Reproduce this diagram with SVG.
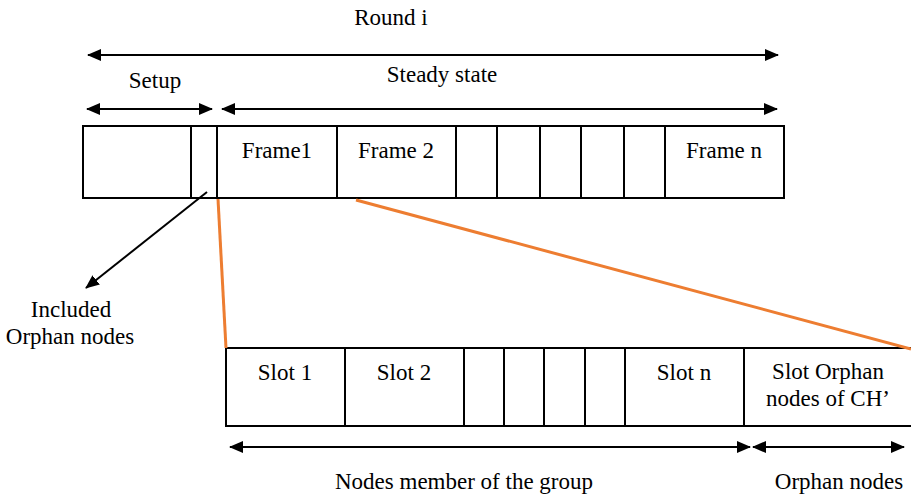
<svg xmlns="http://www.w3.org/2000/svg" width="911" height="497" viewBox="0 0 911 497">
<style>
text{font-family:"Liberation Serif","Times New Roman",serif;font-size:23px;fill:#000;text-anchor:middle}
.box{fill:#fff;stroke:#000;stroke-width:2}
.div{stroke:#000;stroke-width:2}
.arr{stroke:#000;stroke-width:2;fill:none}
.or{stroke:#ED7D31;stroke-width:3;fill:none}
</style>
<defs>
<marker id="ah" markerUnits="userSpaceOnUse" markerWidth="14" markerHeight="12" refX="13" refY="6" orient="auto-start-reverse" viewBox="0 0 14 12">
<path d="M0,0 L14,6 L0,12 z" fill="#000"/>
</marker>
</defs>
<g id="labels-top">
<text x="391" y="25">Round i</text>
<text x="155" y="88">Setup</text>
<text x="442" y="82">Steady state</text>
</g>
<g id="frame-bar">
<rect class="box" x="83" y="126" width="701" height="72"/>
<line class="div" x1="191" y1="126" x2="191" y2="198"/>
<line class="div" x1="217" y1="126" x2="217" y2="198"/>
<line class="div" x1="337" y1="126" x2="337" y2="198"/>
<line class="div" x1="456" y1="126" x2="456" y2="198"/>
<line class="div" x1="497" y1="126" x2="497" y2="198"/>
<line class="div" x1="540" y1="126" x2="540" y2="198"/>
<line class="div" x1="581" y1="126" x2="581" y2="198"/>
<line class="div" x1="624" y1="126" x2="624" y2="198"/>
<line class="div" x1="665" y1="126" x2="665" y2="198"/>
<text x="277" y="158">Frame1</text>
<text x="396" y="158">Frame 2</text>
<text x="724" y="158">Frame n</text>
</g>
<g id="slot-bar">
<rect class="box" x="226" y="348" width="690" height="78"/>
<line class="div" x1="345" y1="348" x2="345" y2="426"/>
<line class="div" x1="464" y1="348" x2="464" y2="426"/>
<line class="div" x1="504" y1="348" x2="504" y2="426"/>
<line class="div" x1="544" y1="348" x2="544" y2="426"/>
<line class="div" x1="585" y1="348" x2="585" y2="426"/>
<line class="div" x1="625" y1="348" x2="625" y2="426"/>
<line class="div" x1="744" y1="348" x2="744" y2="426"/>
<text x="285" y="380">Slot 1</text>
<text x="404" y="380">Slot 2</text>
<text x="684" y="380">Slot n</text>
<text x="828" y="379">Slot Orphan</text>
<text x="828" y="406">nodes of CH’</text>
</g>
<g id="included-label">
<text x="71" y="317">Included</text>
<text x="70" y="344">Orphan nodes</text>
</g>
<g id="labels-bottom">
<text x="464" y="489">Nodes member of the group</text>
<text x="839" y="489">Orphan nodes</text>
</g>
<g id="connectors">
<line class="arr" x1="88" y1="55" x2="778" y2="55" marker-start="url(#ah)" marker-end="url(#ah)"/>
<line class="arr" x1="87" y1="109" x2="212" y2="109" marker-start="url(#ah)" marker-end="url(#ah)"/>
<line class="arr" x1="222" y1="109" x2="777" y2="109" marker-start="url(#ah)" marker-end="url(#ah)"/>
<line class="arr" x1="230" y1="447" x2="750" y2="447" marker-start="url(#ah)" marker-end="url(#ah)"/>
<line class="arr" x1="753" y1="447" x2="904" y2="447" marker-start="url(#ah)" marker-end="url(#ah)"/>
<line class="arr" x1="207" y1="192" x2="86" y2="288" marker-end="url(#ah)"/>
<line class="or" x1="218" y1="199" x2="226" y2="348"/>
<line class="or" x1="356" y1="200" x2="911" y2="349"/>
</g>
</svg>
